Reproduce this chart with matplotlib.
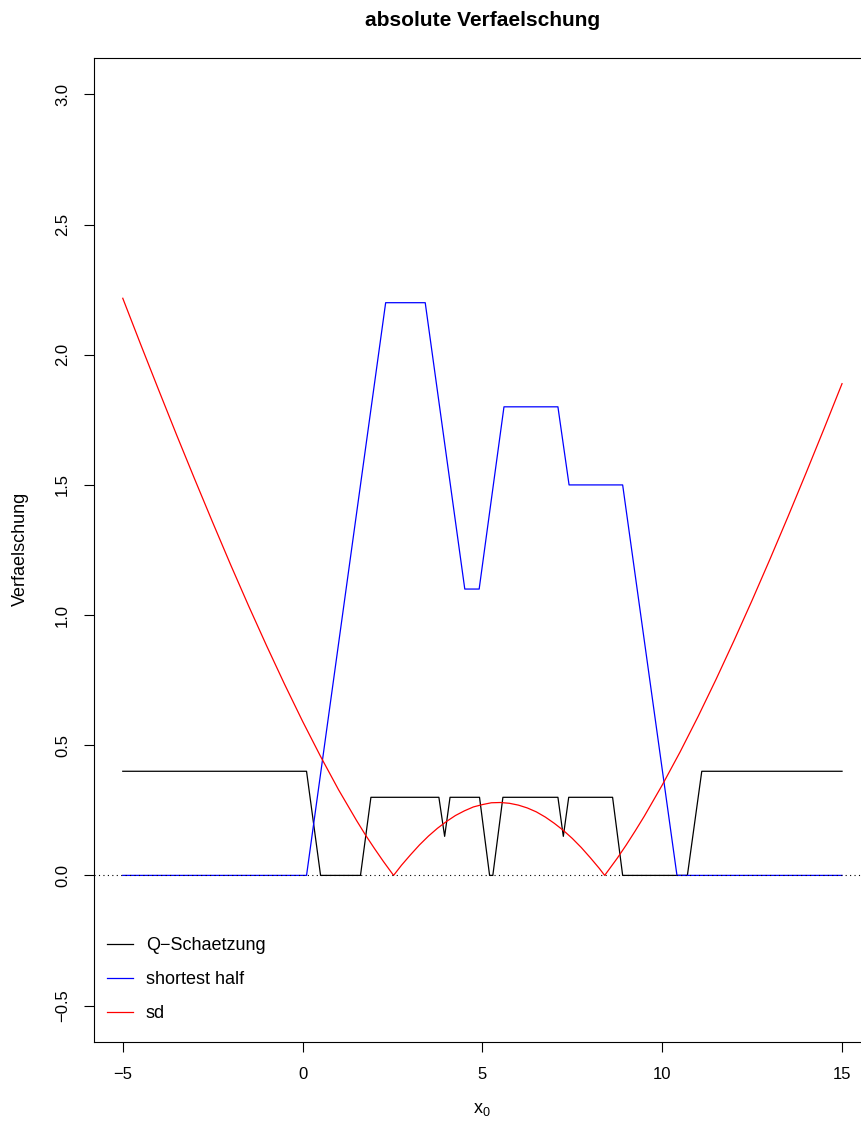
import matplotlib
matplotlib.use("Agg")
import matplotlib.pyplot as plt
from matplotlib.ticker import FuncFormatter

plt.rcParams['font.family'] = ['Liberation Sans', 'DejaVu Sans']
plt.rcParams['mathtext.default'] = 'regular'
plt.rcParams['axes.unicode_minus'] = True

# ---- data ----
q_x = [-5, 0.11, 0.5, 1.61, 1.9, 3.79, 3.95, 4.1, 4.92, 5.2, 5.29, 5.57,
       7.1, 7.25, 7.4, 8.62, 8.9, 10.7, 11.1, 15]
q_y = [0.4, 0.4, 0.0, 0.0, 0.3, 0.3, 0.15, 0.3, 0.3, 0.0, 0.0, 0.3,
       0.3, 0.15, 0.3, 0.3, 0.0, 0.0, 0.4, 0.4]

sh_x = [-5, 0.11, 2.31, 3.41, 4.51, 4.91, 5.6, 7.1, 7.41, 8.9, 10.41, 15]
sh_y = [0.0, 0.0, 2.2, 2.2, 1.1, 1.1, 1.8, 1.8, 1.5, 1.5, 0.0, 0.0]

sd_x = [-5, -4.5, -4, -3.5, -3, -2.5, -2, -1.5, -1, -0.5, 0, 0.5, 1, 1.5,
        1.75, 2, 2.25, 2.53, 2.75, 3, 3.25, 3.5, 3.75, 4, 4.25, 4.5, 4.75, 5,
        5.25, 5.5, 5.75, 6, 6.25, 6.5, 6.75, 7, 7.25, 7.5, 7.75, 8, 8.25, 8.4,
        8.75, 9, 9.25, 9.5, 10, 10.5, 11, 11.5, 12, 12.5, 13, 13.5, 14, 14.5,
        15]
sd_y = [2.217, 2.039, 1.864, 1.691, 1.522, 1.356, 1.193, 1.035, 0.882, 0.734,
        0.592, 0.457, 0.329, 0.211, 0.155, 0.103, 0.053, 0.0, 0.039, 0.079,
        0.117, 0.151, 0.181, 0.207, 0.230, 0.248, 0.263, 0.272, 0.279, 0.280,
        0.277, 0.270, 0.259, 0.244, 0.224, 0.200, 0.173, 0.142, 0.107, 0.068,
        0.027, 0.0, 0.066, 0.117, 0.171, 0.227, 0.347, 0.475, 0.611, 0.754,
        0.903, 1.057, 1.216, 1.379, 1.546, 1.716, 1.889]

x_ticks = [-5, 0, 5, 10, 15]
y_ticks = [-0.5, 0.0, 0.5, 1.0, 1.5, 2.0, 2.5, 3.0]
legend_labels = ['Q\u2212Schaetzung', 'shortest half', 'sd']
title = 'absolute Verfaelschung'

W, H = 861, 1124
fig = plt.figure(figsize=(W / 100, H / 100), dpi=100)
left, right, top, bottom = 94, 870.8, 58, 1042
ax = fig.add_axes([left / W, 1 - bottom / H, (right - left) / W, (bottom - top) / H])

lw = 0.9
ax.plot(q_x, q_y, color='black', lw=lw, label=legend_labels[0])
ax.plot(sh_x, sh_y, color='blue', lw=lw, label=legend_labels[1])
ax.plot(sd_x, sd_y, color='red', lw=lw, label=legend_labels[2])
ax.axhline(0, color='black', lw=0.8, linestyle=(0, (1, 3)))

ax.set_xlim(-5.8, 15.8)
ax.set_ylim(-0.64, 3.14)
ax.set_xticks(x_ticks)
ax.set_yticks(y_ticks)
ax.xaxis.set_major_formatter(FuncFormatter(lambda v, p: f'{v:g}'.replace('-', '\u2212')))
ax.yaxis.set_major_formatter(FuncFormatter(lambda v, p: f'{v:.1f}'.replace('-', '\u2212')))
ax.tick_params(axis='both', direction='out', length=7.2, width=0.8,
               labelsize=12, colors='black')
ax.tick_params(axis='x', pad=10.5)
ax.tick_params(axis='y', pad=10)
for lab in ax.get_yticklabels():
    lab.set_rotation(90)
    lab.set_va('center')
for sp in ax.spines.values():
    sp.set_linewidth(0.8)

ax.set_title(title, fontsize=15, fontweight='bold', pad=23)
fig.text(482 / W, 1 - 1110 / H, r'$x_0$', ha='center', va='center', fontsize=13)
fig.text(20 / W, 1 - 549 / H, 'Verfaelschung', rotation=90,
         ha='center', va='center', fontsize=13)

leg = ax.legend(loc='upper left', bbox_to_anchor=(107 / W, 1 - 937 / H),
                bbox_transform=fig.transFigure, frameon=False, fontsize=13,
                handlelength=1.44, handletextpad=0.72, labelspacing=0.94,
                borderpad=0, borderaxespad=0)

fig.savefig('out.png', dpi=100)
